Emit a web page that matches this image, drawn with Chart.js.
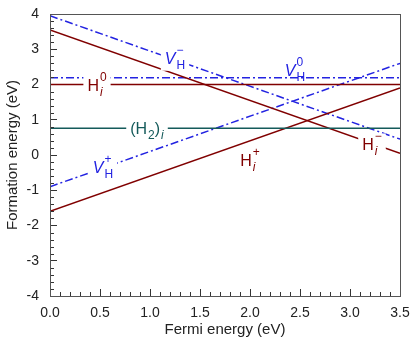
<!DOCTYPE html>
<html>
<head>
<meta charset="utf-8">
<script src="https://cdn.jsdelivr.net/npm/chart.js@4.4.0/dist/chart.umd.min.js"></script>
<style>
  html, body { margin: 0; padding: 0; background: #fff; }
  #wrap { width: 415px; height: 347px; }
</style>
</head>
<body>
<div id="wrap"><canvas id="chart"></canvas></div>
<script>
// Fermi energy range (eV) at which every line is evaluated
const fermi = [0, 3.5];

// formation energies (eV) at the two ends of the range
const vhMinus = [3.95, 0.45];
const vhZero = [2.19, 2.19];
const vhPlus = [-0.9, 2.6];
const hiMinus = [3.55, 0.05];
const hiZero = [2.0, 2.0];
const hiPlus = [-1.6, 1.9];
const h2i = [0.76, 0.76];

// tick positions
const xMajor = [0, 0.5, 1, 1.5, 2, 2.5, 3, 3.5];
const yMajor = [-4, -3, -2, -1, 0, 1, 2, 3, 4];
const xMinorStep = 0.1;
const yMinorStep = 0.2;

const blue = 'rgb(35,35,225)';
const red = 'rgb(128,0,0)';
const teal = 'rgb(20,90,90)';

// in-plot labels: [x, y] in data units, text pieces, colour, break the line under it?
const labels = [
    { at: [1.25, 2.76], parts: [{ t: 'V', it: true }, { sup: '\u2212', sub: 'H' }], color: blue, gap: true },
    { at: [2.45, 2.4], parts: [{ t: 'V', it: true }, { sup: '0', sub: 'H' }], color: blue, gap: false },
    { at: [0.47, 2.0], parts: [{ t: 'H' }, { sup: '0', sub: 'i', subIt: true }], color: red, gap: true },
    { at: [0.97, 0.76], parts: [{ t: '(H' }, { sub: '2' }, { t: ')' }, { sub: 'i', subIt: true }], color: teal, gap: true },
    { at: [0.53, -0.35], parts: [{ t: 'V', it: true }, { sup: '+', sub: 'H' }], color: blue, gap: true },
    { at: [2.0, -0.15], parts: [{ t: 'H' }, { sup: '+', sub: 'i', subIt: true }], color: red, gap: false },
    { at: [3.22, 0.3], parts: [{ t: 'H' }, { sup: '\u2212', sub: 'i', subIt: true }], color: red, gap: true }
];

function pts(vals) {
    return fermi.map((x, i) => ({ x: x, y: vals[i] }));
}

const dashDot = [8, 3, 2, 3];

const FONT = '"Liberation Sans", Arial, sans-serif';

function fnt(size, it) {
    return (it ? 'italic ' : '') + size + 'px ' + FONT;
}

function partWidth(ctx, p) {
    if (p.t !== undefined) {
        ctx.font = fnt(16, p.it);
        return ctx.measureText(p.t).width;
    }
    let w = 0;
    if (p.sup) { ctx.font = fnt(12, false); w = Math.max(w, ctx.measureText(p.sup).width); }
    if (p.sub) { ctx.font = fnt(12, p.subIt); w = Math.max(w, ctx.measureText(p.sub).width); }
    return w + 1;
}

const labelPlugin = {
    id: 'labels',
    afterDatasetsDraw(chart) {
        const ctx = chart.ctx;
        const xs = chart.scales.x, ys = chart.scales.y;
        ctx.save();
        labels.forEach(l => {
            const cx = xs.getPixelForValue(l.at[0]);
            const cy = ys.getPixelForValue(l.at[1]);
            const widths = l.parts.map(p => partWidth(ctx, p));
            const total = widths.reduce((a, b) => a + b, 0);
            if (l.gap) {
                ctx.fillStyle = '#fff';
                ctx.fillRect(cx - total / 2 - 4, cy - 11, total + 8, 24);
            }
            ctx.fillStyle = l.color;
            ctx.textBaseline = 'alphabetic';
            ctx.textAlign = 'left';
            let x = cx - total / 2;
            l.parts.forEach((p, i) => {
                if (p.t !== undefined) {
                    ctx.font = fnt(16, p.it);
                    ctx.fillText(p.t, x, cy + 6);
                } else {
                    if (p.sup) { ctx.font = fnt(12, false); ctx.fillText(p.sup, x + 1, cy - 4); }
                    if (p.sub) { ctx.font = fnt(12, p.subIt); ctx.fillText(p.sub, x + 1, cy + 11); }
                }
                x += widths[i];
            });
        });
        ctx.restore();
    }
};

// minor inward ticks on the left and bottom axes, then a box round the plot
const framePlugin = {
    id: 'frame',
    afterDraw(chart) {
        const ctx = chart.ctx;
        const a = chart.chartArea;
        const xs = chart.scales.x, ys = chart.scales.y;
        const L = Math.round(a.left), B = Math.round(a.bottom);
        ctx.save();
        ctx.fillStyle = '#333';
        const nx = Math.round((xMajor[xMajor.length - 1] - xMajor[0]) / xMinorStep);
        for (let i = 0; i <= nx; i++) {
            const v = xMajor[0] + i * xMinorStep;
            if (xMajor.some(m => Math.abs(m - v) < 1e-6)) continue;
            const px = Math.round(xs.getPixelForValue(v));
            ctx.fillRect(px, B - 4, 1, 4);
        }
        const ny = Math.round((yMajor[yMajor.length - 1] - yMajor[0]) / yMinorStep);
        for (let i = 0; i <= ny; i++) {
            const v = yMajor[0] + i * yMinorStep;
            if (yMajor.some(m => Math.abs(m - v) < 1e-6)) continue;
            const py = Math.round(ys.getPixelForValue(v));
            ctx.fillRect(L, py, 4, 1);
        }
        ctx.setLineDash([]);
        ctx.lineWidth = 1;
        ctx.strokeStyle = '#555';
        ctx.strokeRect(L + 0.5, Math.round(a.top) + 0.5, Math.round(a.right) - L, B - Math.round(a.top));
        ctx.restore();
    }
};

function line(vals, color, dashed) {
    return {
        data: pts(vals),
        borderColor: color,
        borderWidth: 1.5,
        borderDash: dashed ? dashDot : [],
        pointRadius: 0,
        fill: false,
        tension: 0
    };
}

Chart.defaults.font.family = FONT;
Chart.defaults.color = '#222';

// major ticks come from the axes themselves, turned inward with a negative length
const majorGrid = { display: true, drawOnChartArea: false, drawTicks: true, tickLength: -7, color: '#333', lineWidth: 1 };

new Chart(document.getElementById('chart'), {
    type: 'line',
    data: {
        datasets: [
            line(h2i, teal, false),
            line(hiZero, red, false),
            line(hiMinus, red, false),
            line(hiPlus, red, false),
            line(vhZero, blue, true),
            line(vhMinus, blue, true),
            line(vhPlus, blue, true)
        ]
    },
    options: {
        responsive: true,
        maintainAspectRatio: false,
        animation: false,
        layout: { padding: { top: 14, right: 15, left: 4, bottom: 4 } },
        plugins: {
            legend: { display: false },
            tooltip: { enabled: false }
        },
        scales: {
            x: {
                type: 'linear',
                min: 0,
                max: 3.5,
                grid: majorGrid,
                border: { display: false },
                ticks: {
                    stepSize: 0.5,
                    font: { size: 14 },
                    padding: 16,
                    callback: v => v.toFixed(1)
                },
                title: { display: true, text: 'Fermi energy (eV)', font: { size: 15 }, padding: { top: 0 } },
                afterFit: s => { s.height = 47; s.paddingLeft = 0; s.paddingRight = 0; }
            },
            y: {
                min: -4,
                max: 4,
                grid: majorGrid,
                border: { display: false },
                ticks: { stepSize: 1, font: { size: 14 }, padding: 18 },
                title: { display: true, text: 'Formation energy (eV)', font: { size: 15 }, padding: 0 },
                afterFit: s => { s.width = 46; s.paddingTop = 0; s.paddingBottom = 0; }
            }
        }
    },
    plugins: [labelPlugin, framePlugin]
});
</script>
</body>
</html>
